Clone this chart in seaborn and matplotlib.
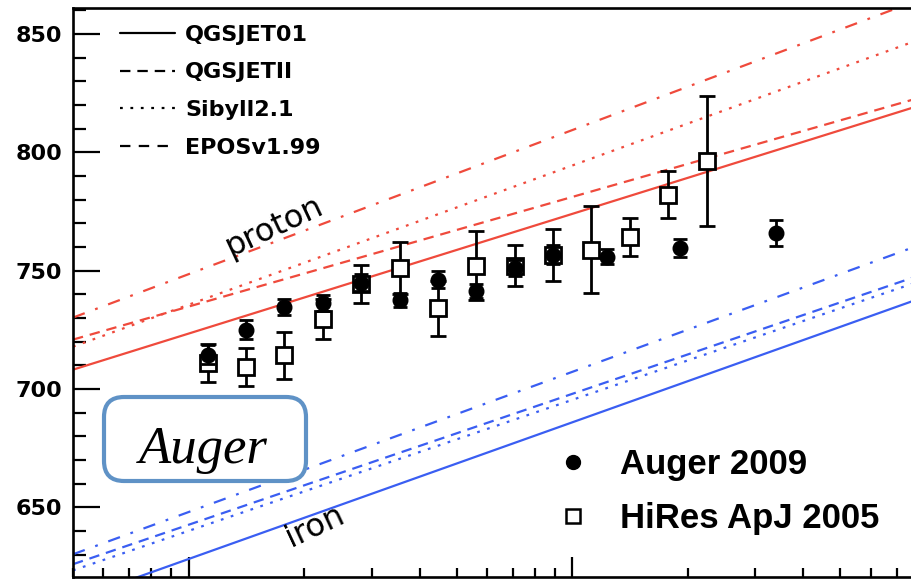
import numpy as np
import pandas as pd
import matplotlib
matplotlib.use("Agg")
import matplotlib.pyplot as plt
from matplotlib.lines import Line2D
from matplotlib.patches import FancyBboxPatch
from matplotlib.ticker import LogLocator, MultipleLocator, NullFormatter
import seaborn as sns

# ---------------------------------------------------------------------------
# Model expectations of <Xmax> [g/cm^2] (straight lines in lg E), given at the
# two ends of the energy range shown
model_energy = [5e17, 1e20]
model_names = ["QGSJET01", "QGSJETII", "Sibyll2.1", "EPOSv1.99"]

proton_qgsjet01 = [708.2, 824.6]
proton_qgsjetii = [720.9, 827.5]
proton_sibyll = [717.9, 853.3]
proton_epos = [730.2, 870.3]

iron_qgsjet01 = [610.8, 743.7]
iron_qgsjetii = [626.0, 753.3]
iron_sibyll = [623.4, 750.8]
iron_epos = [630.2, 766.5]

# Measurements: lg(E/eV), <Xmax> and statistical error
auger_lgE = [18.05, 18.15, 18.25, 18.35, 18.45, 18.55, 18.65, 18.75, 18.85,
             18.95, 19.09, 19.28, 19.53]
auger_xmax = [714.6, 725.1, 734.7, 736.4, 745.0, 737.8, 746.2, 741.3, 751.1,
              756.8, 756.0, 759.6, 765.9]
auger_err = [4.0, 4.0, 3.5, 3.5, 3.5, 3.0, 3.5, 3.0, 3.5, 4.0, 3.0, 3.9, 5.4]

hires_lgE = [18.05, 18.15, 18.25, 18.35, 18.45, 18.55, 18.65, 18.75, 18.85,
             18.95, 19.05, 19.15, 19.25, 19.35]
hires_xmax = [711.0, 709.5, 714.3, 729.7, 744.5, 751.1, 734.1, 752.1, 752.2,
              756.5, 758.9, 764.2, 782.1, 796.3]
hires_err = [8.0, 8.0, 10.0, 8.5, 8.0, 11.0, 11.5, 14.5, 8.5, 11.0, 18.5,
             8.0, 10.0, 27.5]

legend_models = ["QGSJET01", "QGSJETII", "Sibyll2.1", "EPOSv1.99"]
legend_data = ["Auger 2009", "HiRes ApJ 2005"]

# ---------------------------------------------------------------------------
sns.set_theme(style="ticks")
plt.rcParams["font.family"] = ["DejaVu Sans"]
plt.rcParams["lines.scale_dashes"] = False
for key in ["text.color", "axes.labelcolor", "xtick.color", "ytick.color",
            "axes.edgecolor"]:
    plt.rcParams[key] = "black"

RED = "#ef4a3c"
BLUE = "#3a5ef2"
dash_styles = {
    "QGSJET01": "",
    "QGSJETII": (7.5, 5.0),
    "Sibyll2.1": (2.0, 5.5),
    "EPOSv1.99": (9.0, 8.0, 2.0, 8.0),
}

rows = []
for primary, series in [
    ("proton", [proton_qgsjet01, proton_qgsjetii, proton_sibyll, proton_epos]),
    ("iron", [iron_qgsjet01, iron_qgsjetii, iron_sibyll, iron_epos]),
]:
    for name, vals in zip(model_names, series):
        for e, v in zip(model_energy, vals):
            rows.append({"energy": e, "xmax": v, "primary": primary, "model": name})
models_df = pd.DataFrame(rows)

fig = plt.figure(figsize=(9.12, 5.79), dpi=100)
fig.patch.set_facecolor("white")
ax = fig.add_axes([73 / 912, 2 / 579, 883 / 912, 569 / 579])
ax.set_facecolor("white")

sns.lineplot(
    data=models_df, x="energy", y="xmax", hue="primary", style="model",
    palette={"proton": RED, "iron": BLUE}, dashes=dash_styles,
    estimator=None, linewidth=1.6, legend=False, ax=ax, zorder=2,
)

auger_E = 10.0 ** np.array(auger_lgE)
hires_E = 10.0 ** np.array(hires_lgE)

ax.errorbar(hires_E, hires_xmax, yerr=hires_err, fmt="s", ms=12,
            mfc="white", mec="black", mew=2.0, ecolor="black",
            elinewidth=2.0, capsize=5.5, capthick=2.0, zorder=3)
ax.errorbar(auger_E, auger_xmax, yerr=auger_err, fmt="o", ms=10.5,
            color="black", ecolor="black", elinewidth=2.0, capsize=5,
            capthick=2.0, zorder=4)

ax.set_xscale("log")
ax.set_xlim(5e17, 1e20)
ax.set_ylim(620.6, 861.0)
ax.set_xlabel("")
ax.set_ylabel("")

ax.xaxis.set_major_locator(LogLocator(base=10, numticks=10))
ax.xaxis.set_minor_locator(LogLocator(base=10, subs=np.arange(2, 10), numticks=20))
ax.xaxis.set_minor_formatter(NullFormatter())
ax.yaxis.set_major_locator(MultipleLocator(50))
ax.yaxis.set_minor_locator(MultipleLocator(10))

ax.tick_params(axis="x", which="both", direction="in", labelbottom=False,
               bottom=True, top=False, color="black")
ax.tick_params(axis="x", which="major", length=14.4, width=1.6)
ax.tick_params(axis="x", which="minor", length=6.5, width=1.6)
ax.tick_params(axis="y", which="both", direction="in", left=True, right=False,
               color="black")
ax.tick_params(axis="y", which="major", length=19.4, width=1.6,
               labelsize=16, pad=8, labelcolor="black")
ax.tick_params(axis="y", which="minor", length=9.4, width=1.6)
for lab in ax.get_yticklabels():
    lab.set_fontweight("bold")

for side in ["left", "bottom", "top", "right"]:
    ax.spines[side].set_visible(True)
    ax.spines[side].set_color("black")
    ax.spines[side].set_linewidth(1.9)

# primary labels along the model bands
ax.text(1.67e18, 768.5, "proton", fontsize=23, rotation=25, ha="center",
        va="center", color="black")
ax.text(2.14e18, 642.0, "iron", fontsize=23, rotation=25, ha="center",
        va="center", color="black")

# model legend (line styles)
model_handles = [Line2D([], [], color="black", lw=1.6, linestyle="-")]
for name in legend_models[1:]:
    model_handles.append(Line2D([], [], color="black", lw=1.6,
                                dashes=dash_styles[name] if name != "EPOSv1.99" else (7.5, 6.0)))
leg1 = ax.legend(model_handles, legend_models, loc="upper left",
                 bbox_to_anchor=(0.053, 0.971), frameon=False,
                 prop={"family": "DejaVu Sans", "weight": "bold", "size": 16},
                 handlelength=2.5, handletextpad=0.45, labelspacing=0.8,
                 borderpad=0, borderaxespad=0)
ax.add_artist(leg1)

# data legend
data_handles = [
    Line2D([], [], ls="none", marker="o", ms=10, color="black"),
    Line2D([], [], ls="none", marker="s", ms=10.5, mfc="white", mec="black", mew=1.8),
]
leg2 = ax.legend(data_handles, legend_data, loc="upper left",
                 bbox_to_anchor=(0.547, 0.227), frameon=False,
                 prop={"family": "Liberation Sans", "weight": "bold", "size": 25},
                 handlelength=1.0, handletextpad=0.85, labelspacing=0.6,
                 borderpad=0, borderaxespad=0)

# framed experiment tag
tag_box = FancyBboxPatch((1.04, 0.98), 2.02, 0.84,
                         boxstyle="round,pad=0,rounding_size=0.2",
                         transform=fig.dpi_scale_trans, facecolor="white",
                         edgecolor="#5f92c6", linewidth=3.0, zorder=5,
                         clip_on=False)
ax.add_artist(tag_box)
ax.text(2.035, 1.16, "Auger", transform=fig.dpi_scale_trans,
        family="Liberation Serif", style="italic", fontsize=38,
        ha="center", va="baseline", color="black", zorder=6)

fig.savefig("out.png", dpi=100, facecolor="white")
